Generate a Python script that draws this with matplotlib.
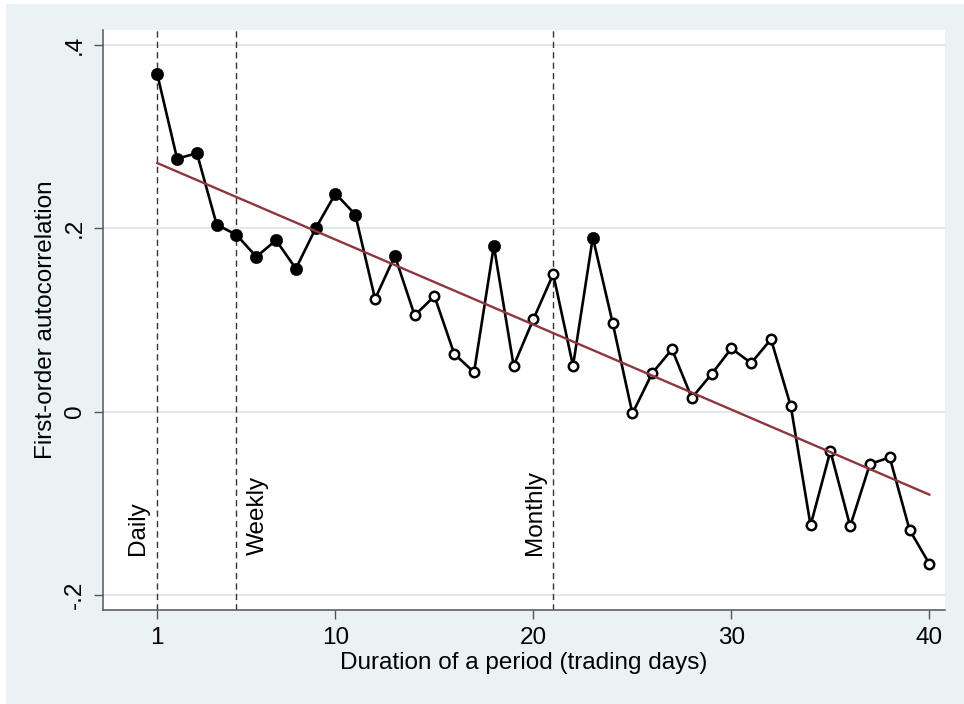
import numpy as np
import matplotlib
matplotlib.use('Agg')
import matplotlib.pyplot as plt
from matplotlib.patches import Rectangle

plt.rcParams['font.family'] = ['Liberation Sans', 'DejaVu Sans']

# data
days = list(range(1, 41))
autocorr = [0.368, 0.276, 0.282, 0.204, 0.193, 0.169, 0.187, 0.156, 0.200, 0.238,
            0.215, 0.123, 0.170, 0.105, 0.126, 0.063, 0.043, 0.181, 0.050, 0.101,
            0.150, 0.050, 0.190, 0.097, -0.002, 0.042, 0.068, 0.015, 0.041, 0.069,
            0.053, 0.079, 0.006, -0.124, -0.043, -0.125, -0.057, -0.050, -0.129, -0.166]
# filled marker = significant
significant = [1, 1, 1, 1, 1, 1, 1, 1, 1, 1,
               1, 0, 1, 0, 0, 0, 0, 1, 0, 0,
               0, 0, 1, 0, 0, 0, 0, 0, 0, 0,
               0, 0, 0, 0, 0, 0, 0, 0, 0, 0]
period_marks = [1, 5, 21]
period_names = ['Daily', 'Weekly', 'Monthly']
period_text_x = [0.03, 6.09, 20.07]
xticks = [1, 10, 20, 30, 40]
yticks = [0.4, 0.2, 0.0, -0.2]
ytick_labels = ['.4', '.2', '0', '-.2']

BG = '#EAF2F3'
GRID = '#E2EAED'
AXCOL = '#555555'
MAROON = '#90353B'
FS = 17.5

x = np.array(days)
y = np.array(autocorr)
sig = np.array(significant).astype(bool)

fig = plt.figure(figsize=(9.64, 7.04), dpi=100)
fig.patch.set_facecolor('white')
fig.patches.append(Rectangle((6 / 964, 0), 958 / 964, 700 / 704, transform=fig.transFigure,
                             facecolor=BG, edgecolor='none', zorder=-10))

ax = fig.add_axes([103 / 964, 1 - 610 / 704, 842 / 964, 580 / 704])
ax.set_facecolor('white')
ax.set_xlim(-1.743, 40.79)
ax.set_ylim(-0.2164, 0.4164)

for yt in yticks:
    ax.axhline(yt, color=GRID, lw=1.5, zorder=0)

for xm in period_marks:
    ax.axvline(xm, color='#333333', lw=1.0, dashes=(4.5, 3.0), zorder=1)
for xt, name in zip(period_text_x, period_names):
    ax.text(xt, -0.1563, name, rotation=90, ha='center', va='bottom', fontsize=FS)

ax.plot(x, y, color='black', lw=1.9, zorder=3)
ax.plot(x[~sig], y[~sig], 'o', ms=6.8, mfc='white', mec='black', mew=1.8, zorder=4)
ax.plot(x[sig], y[sig], 'o', ms=9.0, mfc='black', mec='black', mew=0.3, zorder=4)

# linear fit
b, a = np.polyfit(x, y, 1)
ax.plot([x.min(), x.max()], [a + b * x.min(), a + b * x.max()], color=MAROON, lw=1.7, zorder=5)

for s in ['top', 'right']:
    ax.spines[s].set_visible(False)
for s in ['left', 'bottom']:
    ax.spines[s].set_color(AXCOL)
    ax.spines[s].set_linewidth(1.1)

ax.set_xticks(xticks)
ax.set_yticks(yticks)
ax.set_yticklabels(ytick_labels, rotation=90, va='center')
ax.tick_params(axis='both', direction='out', length=6.5, width=1.0, color=AXCOL,
               labelsize=FS, labelcolor='black')
ax.tick_params(axis='x', pad=6)
ax.tick_params(axis='y', pad=6)

ax.set_xlabel('Duration of a period (trading days)', fontsize=FS)
ax.set_ylabel('First-order autocorrelation', fontsize=FS)
ax.xaxis.set_label_coords(0.5, -0.072)
ax.yaxis.set_label_coords(-0.0677, 0.5)
ax.xaxis.label.set_va('top')
ax.yaxis.label.set_va('center')

fig.savefig('out.png', dpi=100, facecolor=fig.get_facecolor())
